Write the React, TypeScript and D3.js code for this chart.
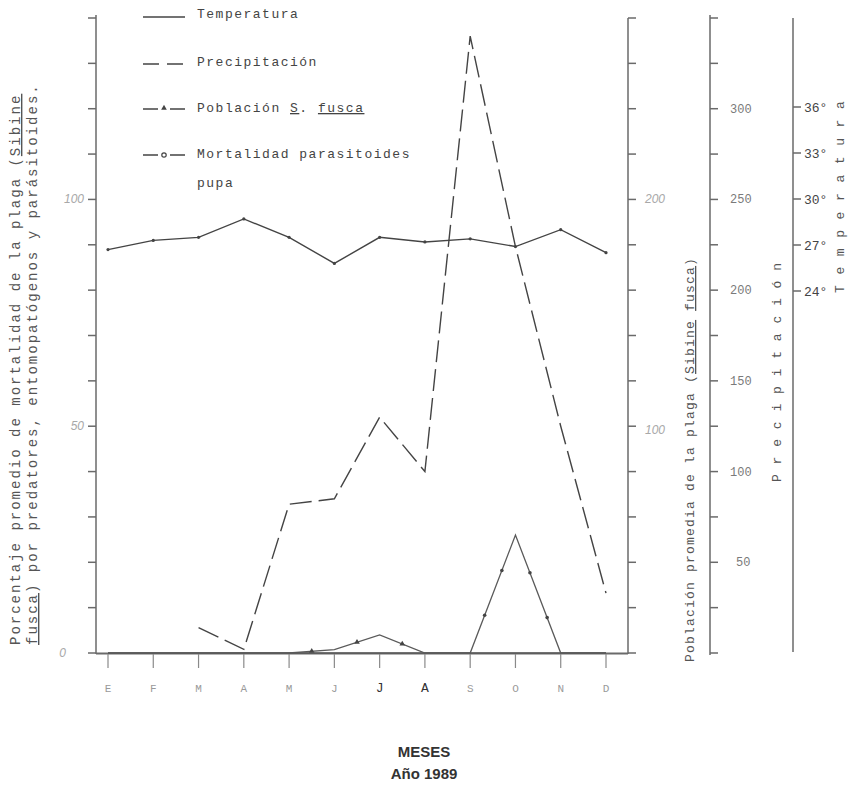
import React from 'react';
import * as d3 from 'd3';

// months of 1989
const months = ['E', 'F', 'M', 'A', 'M', 'J', 'J', 'A', 'S', 'O', 'N', 'D'];
// mean temperature, degrees C
const temperatura = [26.7, 27.3, 27.5, 28.7, 27.5, 25.8, 27.5, 27.2, 27.4, 26.9, 28.0, 26.5];
// precipitation, mm (no record for E, F)
const precipitacion = [null, null, 14, 2, 82, 85, 130, 100, 340, 224, 125, 33];
// mean pest population (Sibine fusca)
const poblacion = [0, 0, 0, 0, 0, 1.5, 8, 0, 0, 0, 0, 0];
// % mortality, pupal parasitoids
const mortalidad = [0, 0, 0, 0, 0, 0, 0, 0, 0, 26, 0, 0];

const leftTicks = d3.range(0, 141, 10);
const leftLabels = [0, 50, 100];
const pobTicks = d3.range(0, 281, 20);
const pobLabels = [100, 200];
const precTicks = d3.range(0, 351, 25);
const precLabels = [50, 100, 150, 200, 250, 300];
const tempLabels = [24, 27, 30, 33, 36];

const W = 848;
const H = 795;
const mono = '"Liberation Mono", "DejaVu Sans Mono", monospace';
const ink = '#444';
const axisInk = '#6a6a6a';
const faint = '#a8a8a8';

const App = () => {
  const x = d3.scalePoint<number>().domain(d3.range(12)).range([108, 606]);
  const baseY = 653;
  const yLeft = d3.scaleLinear().domain([0, 140]).range([baseY, 18]);
  const yPob = d3.scaleLinear().domain([0, 280]).range([baseY, 18]);
  const yPrec = d3.scaleLinear().domain([0, 350]).range([baseY, 18]);
  const yTemp = d3.scaleLinear().domain([24, 36]).range([291, 107]);

  const mkLine = (y: d3.ScaleLinear<number, number>) =>
    d3.line<number | null>()
      .defined(v => v != null)
      .x((_, i) => x(i) as number)
      .y(v => y(v as number));

  const tri = d3.symbol().type(d3.symbolTriangle).size(14)();

  // markers sit along the segments, not on the points
  const midMarks = (vals: (number | null)[], y: d3.ScaleLinear<number, number>, ts: number[]) => {
    const out: { x: number; y: number }[] = [];
    for (let i = 0; i < vals.length - 1; i++) {
      const a = vals[i], b = vals[i + 1];
      if (a == null || b == null || (a === 0 && b === 0)) continue;
      const x0 = x(i) as number, x1 = x(i + 1) as number;
      ts.forEach(t => out.push({ x: x0 + (x1 - x0) * t, y: y(a) + (y(b) - y(a)) * t }));
    }
    return out;
  };

  const pobMarks = midMarks(poblacion, yPob, [0.5]);
  const mortMarks = midMarks(mortalidad, yLeft, [0.32, 0.7]);

  return (
    <svg width={W} height={H} style={{ position: 'absolute', left: 0, top: 0, background: '#fff' }}>
      {/* left axis */}
      <g stroke={axisInk} strokeWidth={1.5}>
        <line x1={96} x2={96} y1={15} y2={654} />
        {leftTicks.map(t => <line key={t} x1={88} x2={96} y1={yLeft(t)} y2={yLeft(t)} />)}
        {/* bottom axis */}
        <line x1={96} x2={628} y1={653.5} y2={653.5} strokeWidth={2} />
        {months.map((_, i) => <line key={i} x1={x(i)} x2={x(i)} y1={654} y2={668} strokeWidth={1.2} stroke="#8a8a8a" />)}
        {/* population axis */}
        <line x1={628} x2={628} y1={18} y2={654} />
        {pobTicks.map(t => <line key={t} x1={628} x2={636} y1={yPob(t)} y2={yPob(t)} />)}
        {/* precipitation axis */}
        <line x1={710} x2={710} y1={15} y2={655} />
        {precTicks.map(t => <line key={t} x1={710} x2={718} y1={yPrec(t)} y2={yPrec(t)} />)}
        {/* temperature axis */}
        <line x1={793} x2={793} y1={18} y2={652} />
        {tempLabels.map(t => <line key={t} x1={793} x2={801} y1={yTemp(t)} y2={yTemp(t)} />)}
      </g>

      {/* tick labels */}
      <g fontFamily='"Liberation Sans", Arial, sans-serif' fontStyle="italic" fontSize={12} fill={faint}>
        {leftLabels.map(t => (
          <text key={t} x={t === 0 ? 66 : 84} y={yLeft(t) + 4} textAnchor="end">{t}</text>
        ))}
        {pobLabels.map(t => (
          <text key={t} x={645} y={yPob(t) + 4 + (t === 100 ? 4 : 0)}>{t}</text>
        ))}
      </g>
      <g fontFamily={mono} fontSize={12} fill="#7a7a7a">
        {precLabels.map(t => (
          <text key={t} x={t === 50 ? 736 : 730} y={yPrec(t) + 4}>{t}</text>
        ))}
      </g>
      <g fontFamily={mono} fontSize={13} fill={ink}>
        {tempLabels.map(t => (
          <text key={t} x={804} y={yTemp(t) + 5}>{t}°</text>
        ))}
      </g>

      {/* month labels */}
      <g fontFamily={mono} fontSize={11} textAnchor="middle">
        {months.map((m, i) => (
          <text key={i} x={x(i)} y={692} fill={i === 6 || i === 7 ? '#333' : '#9a9a9a'}
            fontSize={i === 6 || i === 7 ? 13 : 11}>{m}</text>
        ))}
      </g>

      {/* series */}
      <path d={mkLine(yTemp)(temperatura) ?? ''} fill="none" stroke={ink} strokeWidth={1.4} />
      {temperatura.map((v, i) => <circle key={i} cx={x(i)} cy={yTemp(v)} r={1.6} fill={ink} />)}
      <path d={mkLine(yPrec)(precipitacion) ?? ''} fill="none" stroke={ink} strokeWidth={1.4} strokeDasharray="22 7" />
      <path d={mkLine(yPob)(poblacion) ?? ''} fill="none" stroke="#5a5a5a" strokeWidth={1.3} />
      {pobMarks.map((p, i) => <path key={i} d={tri ?? ''} transform={`translate(${p.x},${p.y})`} fill={ink} />)}
      <path d={mkLine(yLeft)(mortalidad) ?? ''} fill="none" stroke="#5a5a5a" strokeWidth={1.3} />
      {mortMarks.map((p, i) => <circle key={i} cx={p.x} cy={p.y} r={1.8} fill={ink} />)}

      {/* legend */}
      <g fontFamily={mono} fontSize={13} fill={ink} letterSpacing={1.5}>
        <line x1={143} x2={185} y1={17} y2={17} stroke={ink} strokeWidth={1.4} />
        <text x={197} y={18}>Temperatura</text>
        <line x1={143} x2={185} y1={64} y2={64} stroke={ink} strokeWidth={1.4} strokeDasharray="16 8" />
        <text x={197} y={66}>Precipitación</text>
        <line x1={143} x2={185} y1={109} y2={109} stroke={ink} strokeWidth={1.4} strokeDasharray="15 12 15" />
        <path d={tri ?? ''} transform="translate(164,108)" fill={ink} />
        <text x={197} y={112}>Población <tspan textDecoration="underline">S</tspan>. <tspan textDecoration="underline">fusca</tspan></text>
        <line x1={143} x2={185} y1={155} y2={155} stroke={ink} strokeWidth={1.4} strokeDasharray="15 12 15" />
        <circle cx={164} cy={155} r={2.2} fill="none" stroke={ink} strokeWidth={1.2} />
        <text x={197} y={158}>Mortalidad parasitoides</text>
        <text x={197} y={187}>pupa</text>
      </g>

      {/* axis titles */}
      <g fontFamily={mono} fontSize={14} fill="#555" letterSpacing={2}>
        <text transform="translate(20,645) rotate(-90)">
          Porcentaje promedio de mortalidad de la plaga (<tspan textDecoration="underline">Sibine</tspan>
        </text>
        <text transform="translate(37,645) rotate(-90)">
          <tspan textDecoration="underline">fusca</tspan>) por predatores, entomopatógenos y parásitoides.
        </text>
      </g>
      <g fontFamily={mono} fontSize={13} fill="#555" letterSpacing={1.2}>
        <text transform="translate(694,662) rotate(-90)">
          Población promedia de la plaga (<tspan textDecoration="underline">Sibine</tspan> <tspan textDecoration="underline">fusca</tspan>)
        </text>
      </g>
      <g fontFamily={mono} fontSize={13} fill="#555">
        <text transform="translate(781,482) rotate(-90)" letterSpacing={9.8}>Precipitación</text>
        <text transform="translate(844,293) rotate(-90)" letterSpacing={10.6}>Temperatura</text>
      </g>

      {/* footer */}
      <g fontFamily='"Liberation Sans", Arial, sans-serif' fontWeight="bold" fontSize={15} fill="#333" textAnchor="middle">
        <text x={424} y={757}>MESES</text>
        <text x={424} y={779}>Año 1989</text>
      </g>
    </svg>
  );
};

export default App;
